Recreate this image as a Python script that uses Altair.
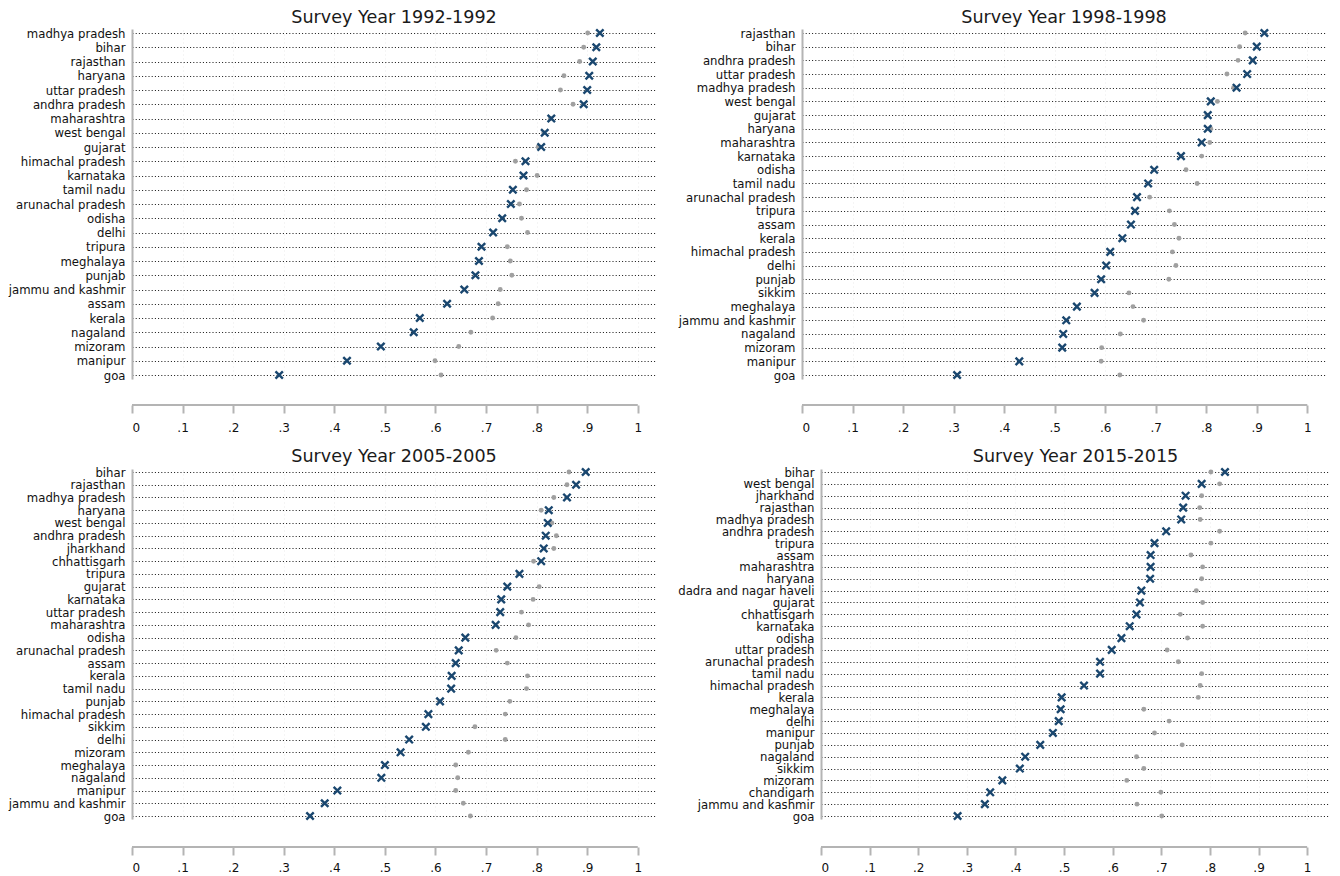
import altair as alt
import pandas as pd

# ---------------- data ----------------
states_1992 = ["madhya pradesh", "bihar", "rajasthan", "haryana", "uttar pradesh", "andhra pradesh",
               "maharashtra", "west bengal", "gujarat", "himachal pradesh", "karnataka", "tamil nadu",
               "arunachal pradesh", "odisha", "delhi", "tripura", "meghalaya", "punjab",
               "jammu and kashmir", "assam", "kerala", "nagaland", "mizoram", "manipur", "goa"]
blue_1992 = [0.925, 0.918, 0.911, 0.904, 0.900, 0.893, 0.829, 0.816, 0.809, 0.778, 0.774, 0.753,
             0.749, 0.732, 0.714, 0.691, 0.686, 0.679, 0.657, 0.623, 0.569, 0.557, 0.492, 0.425, 0.291]
grey_1992 = [0.901, 0.893, 0.885, 0.854, 0.847, 0.872, 0.827, 0.814, 0.803, 0.758, 0.801, 0.780,
             0.766, 0.770, 0.782, 0.742, 0.748, 0.751, 0.728, 0.724, 0.713, 0.670, 0.646, 0.599, 0.611]

states_1998 = ["rajasthan", "bihar", "andhra pradesh", "uttar pradesh", "madhya pradesh", "west bengal",
               "gujarat", "haryana", "maharashtra", "karnataka", "odisha", "tamil nadu",
               "arunachal pradesh", "tripura", "assam", "kerala", "himachal pradesh", "delhi", "punjab",
               "sikkim", "meghalaya", "jammu and kashmir", "nagaland", "mizoram", "manipur", "goa"]
blue_1998 = [0.915, 0.900, 0.892, 0.881, 0.860, 0.809, 0.803, 0.803, 0.791, 0.750, 0.697, 0.685,
             0.663, 0.659, 0.651, 0.634, 0.610, 0.602, 0.592, 0.579, 0.544, 0.523, 0.517, 0.515,
             0.430, 0.307]
grey_1998 = [0.877, 0.866, 0.863, 0.841, 0.854, 0.822, 0.801, 0.809, 0.807, 0.791, 0.760, 0.782,
             0.688, 0.727, 0.737, 0.746, 0.733, 0.740, 0.726, 0.647, 0.655, 0.676, 0.630, 0.593,
             0.592, 0.629]

states_2005 = ["bihar", "rajasthan", "madhya pradesh", "haryana", "west bengal", "andhra pradesh",
               "jharkhand", "chhattisgarh", "tripura", "gujarat", "karnataka", "uttar pradesh",
               "maharashtra", "odisha", "arunachal pradesh", "assam", "kerala", "tamil nadu", "punjab",
               "himachal pradesh", "sikkim", "delhi", "mizoram", "meghalaya", "nagaland", "manipur",
               "jammu and kashmir", "goa"]
blue_2005 = [0.897, 0.878, 0.860, 0.824, 0.822, 0.818, 0.814, 0.809, 0.766, 0.742, 0.730, 0.728,
             0.719, 0.659, 0.646, 0.640, 0.632, 0.631, 0.609, 0.586, 0.581, 0.548, 0.531, 0.500,
             0.493, 0.406, 0.381, 0.352]
grey_2005 = [0.864, 0.860, 0.834, 0.809, 0.830, 0.839, 0.834, 0.794, 0.764, 0.805, 0.793, 0.770,
             0.784, 0.759, 0.720, 0.742, 0.782, 0.780, 0.747, 0.738, 0.678, 0.738, 0.665, 0.640,
             0.644, 0.640, 0.655, 0.669]

states_2015 = ["bihar", "west bengal", "jharkhand", "rajasthan", "madhya pradesh", "andhra pradesh",
               "tripura", "assam", "maharashtra", "haryana", "dadra and nagar haveli", "gujarat",
               "chhattisgarh", "karnataka", "odisha", "uttar pradesh", "arunachal pradesh",
               "tamil nadu", "himachal pradesh", "kerala", "meghalaya", "delhi", "manipur", "punjab",
               "nagaland", "sikkim", "mizoram", "chandigarh", "jammu and kashmir", "goa"]
blue_2015 = [0.831, 0.783, 0.750, 0.745, 0.741, 0.710, 0.686, 0.678, 0.678, 0.677, 0.659, 0.656,
             0.649, 0.635, 0.618, 0.598, 0.574, 0.574, 0.541, 0.495, 0.493, 0.489, 0.477, 0.451,
             0.420, 0.409, 0.373, 0.348, 0.337, 0.281]
grey_2015 = [0.802, 0.820, 0.783, 0.779, 0.780, 0.820, 0.802, 0.761, 0.785, 0.783, 0.772, 0.785,
             0.739, 0.785, 0.754, 0.712, 0.735, 0.783, 0.780, 0.776, 0.664, 0.716, 0.686, 0.743,
             0.649, 0.664, 0.629, 0.699, 0.650, 0.701]

titles = ["Survey Year 1992-1992", "Survey Year 1998-1998",
          "Survey Year 2005-2005", "Survey Year 2015-2015"]
tick_values = [0, 0.1, 0.2, 0.3, 0.4, 0.5, 0.6, 0.7, 0.8, 0.9, 1.0]

# ---------------- style ----------------
FONT = "DejaVu Sans"
BLUE = "#1a476f"
GREY = "#a0a0a0"
AXIS_GREY = "#b4b4b4"
X_PATH = "M -1 -1 L 1 1 M -1 1 L 1 -1"


def panel(title, states, blue, grey, width, xmax, height=350, pad_px=4, axis_offset=26,
          label_pad=9):
    n = len(states)
    step = (height - 2 * pad_px) / (n - 1)
    pad = pad_px / step
    df = pd.DataFrame({"state": states, "adj": blue, "raw": grey})
    xscale = alt.Scale(domain=[0, xmax], nice=False, zero=True)
    yscale = alt.Scale(type="point", padding=pad)
    yaxis = alt.Axis(title=None, grid=True, gridDash=[1, 2.2], gridColor="#151515", gridWidth=1.1,
                     ticks=False, domainColor=AXIS_GREY, domainWidth=2, labelPadding=7,
                     labelFontSize=11.7, labelColor="#111", labelFont=FONT)
    xaxis = alt.Axis(title=None, values=tick_values, domain=False, grid=True,
                     gridColor="#ebebeb", gridDash=[1, 3], tickColor=AXIS_GREY, tickWidth=2,
                     tickSize=8, offset=axis_offset, labelFontSize=12, labelPadding=label_pad,
                     labelColor="#111", labelFont=FONT,
                     labelExpr="datum.value == 0 ? '0' : (datum.value == 1 ? '1' : replace(format(datum.value, '.1f'), '0.', '.'))")
    base = alt.Chart(df)
    ygrey = base.mark_point(shape="circle", filled=True, size=24, color=GREY, opacity=1).encode(
        x=alt.X("raw:Q", scale=xscale, axis=xaxis),
        y=alt.Y("state:N", sort=states, scale=yscale, axis=yaxis),
    )
    yblue = base.mark_point(shape=X_PATH, filled=False, size=55, strokeWidth=2.4, color=BLUE,
                            opacity=1).encode(
        x=alt.X("adj:Q", scale=xscale, axis=xaxis),
        y=alt.Y("state:N", sort=states, scale=yscale, axis=yaxis),
    )
    line = alt.Chart(pd.DataFrame({"a": [tick_values[0]], "b": [tick_values[-1]]})).mark_rule(
        color=AXIS_GREY, strokeWidth=2).encode(
        x=alt.X("a:Q", scale=xscale, axis=xaxis),
        x2="b:Q",
        y=alt.value(height + axis_offset),
    )
    return alt.layer(ygrey, yblue, line).properties(
        width=width, height=height,
        title=alt.TitleParams(title, fontSize=17.6, font=FONT, fontWeight="normal",
                              anchor="middle", color="#1a1a1a", offset=-2),
    )


p1 = panel(titles[0], states_1992, blue_1992, grey_1992, 524, 1.036)
p2 = panel(titles[1], states_1998, blue_1998, grey_1998, 524, 1.037)
p3 = panel(titles[2], states_2005, blue_2005, grey_2005, 524, 1.036,
           pad_px=3, axis_offset=28, label_pad=7)
p4 = panel(titles[3], states_2015, blue_2015, grey_2015, 509, 1.047,
           pad_px=3, axis_offset=28, label_pad=7)

chart = alt.vconcat(
    alt.hconcat(p1, p2, spacing=22),
    alt.hconcat(p3, p4, spacing=21),
    spacing=14,
).properties(padding={"left": 0, "top": 0, "right": 0, "bottom": 0},
             background="white").configure(font=FONT).configure_view(stroke=None)

chart.save("out.html", embed_options={"renderer": "svg", "actions": False})
